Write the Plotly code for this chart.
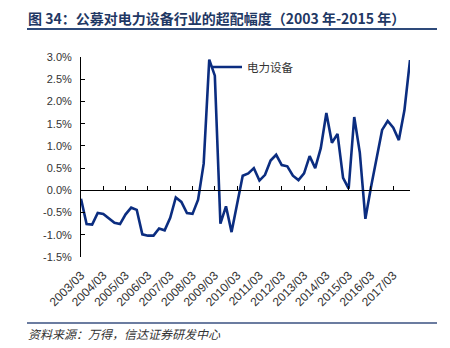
import plotly.graph_objects as go

# ---- data ----
years = list(range(2003, 2018))
months = ["03", "06", "09", "12"]
quarters = [f"{y}/{m}" for y in years for m in months]
tick_labels = [f"{y}/03" for y in years]
series_name = "电力设备"
overweight = [
    -0.19, -0.76, -0.77, -0.51, -0.53, -0.62, -0.73, -0.76, -0.54, -0.39,
    -0.44, -0.99, -1.02, -1.02, -0.86, -0.90, -0.62, -0.16, -0.26, -0.51,
    -0.53, -0.21, 0.60, 2.94, 2.58, -0.75, -0.36, -0.94, -0.32, 0.33,
    0.38, 0.50, 0.22, 0.35, 0.67, 0.80, 0.57, 0.54, 0.33, 0.23,
    0.38, 0.77, 0.50, 0.95, 1.74, 1.07, 1.27, 0.28, 0.04, 1.65,
    0.85, -0.64, 0.07, 0.71, 1.36, 1.56, 1.41, 1.13, 1.80, 2.93,
]
y_ticks = [-1.5, -1.0, -0.5, 0.0, 0.5, 1.0, 1.5, 2.0, 2.5, 3.0]
title_text = "图 34：公募对电力设备行业的超配幅度（2003 年-2015 年）"
source_text = "资料来源：万得，信达证券研发中心"

# ---- layout geometry ----
W, H = 450, 348
L, R, T, B = 81, 40, 57, 91
PW, PH = W - L - R, H - T - B


def px_x(p):
    return (p - L) / PW


def px_y(p):
    return (H - B - p) / PH


LINE_COLOR = "#0b2d80"
NAVY = "#1f3864"
num_font = dict(family="Liberation Sans, Arial, sans-serif", size=11, color="#333333")
xlab_font = dict(family="Liberation Sans, Arial, sans-serif", size=12, color="#333333")
cjk = "Noto Sans CJK SC, sans-serif"

fig = go.Figure()
fig.add_trace(go.Scatter(
    x=quarters, y=overweight, mode="lines", name=series_name,
    line=dict(color=LINE_COLOR, width=2.6), xaxis="x", yaxis="y",
))
# invisible twin so that the zero-line axis is drawn
fig.add_trace(go.Scatter(
    x=quarters, y=overweight, mode="lines", showlegend=False, hoverinfo="skip",
    line=dict(color="rgba(0,0,0,0)", width=0), xaxis="x2", yaxis="y",
))

ymin, ymax = y_ticks[0], y_ticks[-1]

fig.update_layout(
    width=W, height=H,
    margin=dict(l=L, r=R, t=T, b=B, pad=0),
    paper_bgcolor="white", plot_bgcolor="white",
    showlegend=True,
    legend=dict(
        x=px_x(207), y=px_y(67), xanchor="left", yanchor="middle",
        bgcolor="rgba(0,0,0,0)", borderwidth=0,
        font=dict(family=cjk, size=11.5, color="#333333"),
        itemwidth=30,
    ),
    xaxis=dict(
        type="category", range=[0, len(quarters) - 1],
        tickmode="array", tickvals=tick_labels, ticktext=tick_labels,
        tickangle=-45, tickfont=xlab_font,
        showline=False, ticks="", showgrid=False, zeroline=False,
        ticklabelstandoff=8,
    ),
    xaxis2=dict(
        type="category", overlaying="x", matches="x", anchor="free",
        position=(0 - ymin) / (ymax - ymin), side="bottom",
        tickmode="array", tickvals=tick_labels,
        showticklabels=False, showline=True, linecolor="black", linewidth=1,
        ticks="inside", ticklen=4, tickcolor="black", tickwidth=1,
        showgrid=False, zeroline=False,
    ),
    yaxis=dict(
        range=[ymin, ymax], tickmode="array", tickvals=y_ticks,
        ticktext=[f"{v:.1f}%" for v in y_ticks],
        tickfont=num_font, showline=True, linecolor="black", linewidth=1,
        ticks="inside", ticklen=4, tickcolor="black", tickwidth=1,
        showgrid=False, zeroline=False, ticklabelstandoff=6,
    ),
    annotations=[
        dict(text=f"<b>{title_text}</b>", xref="paper", yref="paper",
             x=px_x(26), y=px_y(18), xanchor="left", yanchor="middle",
             showarrow=False, font=dict(family=cjk, size=14, color=NAVY)),
        dict(text=f"<i>{source_text}</i>", xref="paper", yref="paper",
             x=px_x(26), y=px_y(333), xanchor="left", yanchor="middle",
             showarrow=False, font=dict(family=cjk, size=12, color="#333333")),
    ],
    shapes=[
        dict(type="line", xref="paper", yref="paper",
             x0=px_x(27), x1=px_x(437), y0=px_y(29), y1=px_y(29),
             line=dict(color="#2e4a7a", width=2)),
        dict(type="line", xref="paper", yref="paper",
             x0=px_x(27), x1=px_x(437), y0=px_y(323), y1=px_y(323),
             line=dict(color="#3a5080", width=1.5)),
    ],
)

fig.write_html("out.html")
